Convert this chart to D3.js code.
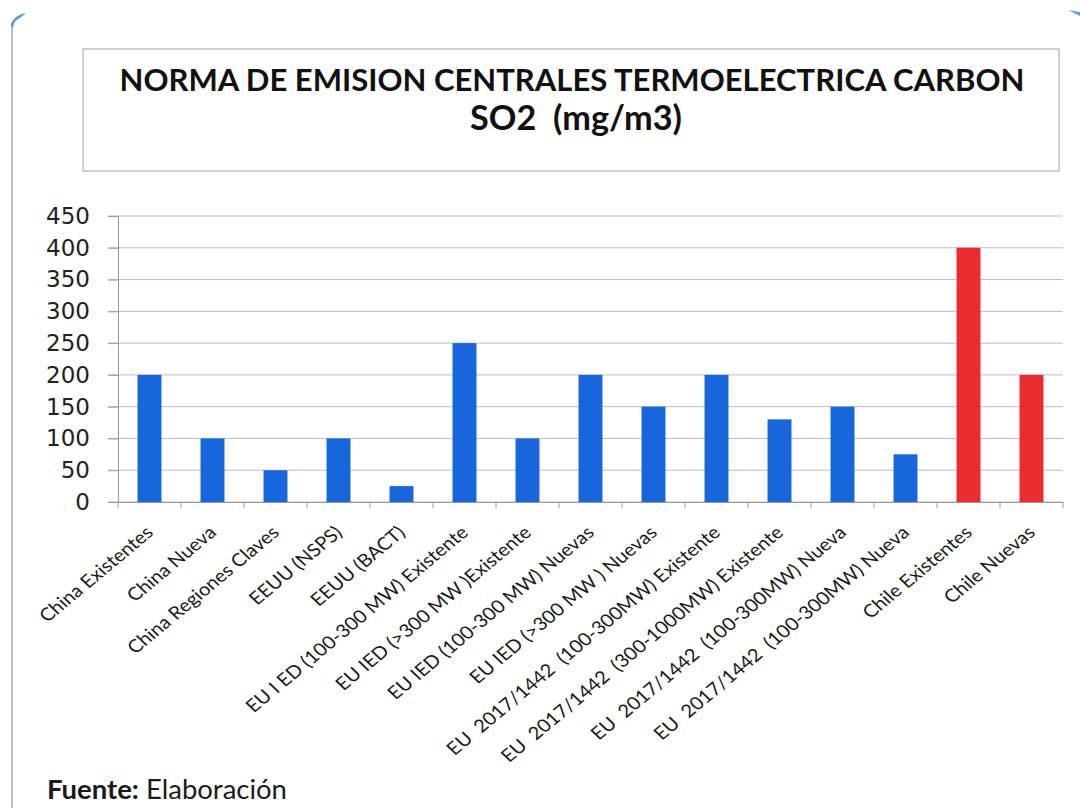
<!DOCTYPE html>
<html><head><meta charset="utf-8">
<script src="https://cdn.jsdelivr.net/npm/d3@7"></script>
<style>
html,body{margin:0;padding:0;background:#fff;}
svg{display:block;}
text{white-space:pre;}
</style></head>
<body>
<svg id="chart" width="1080" height="808"></svg>
<script>
const categories = [
  "China Existentes",
  "China Nueva",
  "China Regiones Claves",
  "EEUU (NSPS)",
  "EEUU (BACT)",
  "EU I ED (100-300 MW) Existente",
  "EU IED (>300 MW )Existente",
  "EU IED (100-300 MW) Nuevas",
  "EU IED (>300 MW ) Nuevas",
  "EU  2017/1442  (100-300MW) Existente",
  "EU  2017/1442  (300-1000MW) Existente",
  "EU  2017/1442  (100-300MW) Nueva",
  "EU  2017/1442  (100-300MW) Nueva",
  "Chile Existentes",
  "Chile Nuevas"
];
const values = [200, 100, 50, 100, 25, 250, 100, 200, 150, 200, 130, 150, 75, 400, 200];
const groups = ["otros","otros","otros","otros","otros","otros","otros","otros","otros","otros","otros","otros","otros","chile","chile"];
const yTicks = [0, 50, 100, 150, 200, 250, 300, 350, 400, 450];
const titleLines = ["NORMA DE EMISION CENTRALES TERMOELECTRICA CARBON", "SO2  (mg/m3)"];

const colors = {otros: "#1766dc", chile: "#ec2a30"};
const svg = d3.select("#chart");
const L = 118, R = 1063, T = 216, B = 502;
const keys = categories.map((c, i) => i);

const x = d3.scaleBand().domain(keys).range([L, R]).paddingInner(0.62).paddingOuter(0.31);
const y = d3.scaleLinear().domain([0, 450]).range([B, T]);

function fit(sel, w) {
  const n = sel.node();
  const fs = parseFloat(sel.attr("font-size"));
  const len = n.getComputedTextLength();
  const nf = fs * w / len;
  sel.attr("font-size", nf.toFixed(2));
  return nf;
}

// decoration: slide edge
svg.append("line").attr("x1", 12).attr("x2", 12).attr("y1", 22).attr("y2", 808)
  .attr("stroke", "#a8a8a8").attr("stroke-width", 1.5);
svg.append("path").attr("d", "M11,26 Q12,16 26,13 L20,18 Q14,20 13,28 Z").attr("fill", "#5b9bd5");
svg.append("path").attr("d", "M1068,10 L1080,12 L1080,16 Z").attr("fill", "#6a9ed0");

// title box
svg.append("rect").attr("x", 83).attr("y", 49).attr("width", 976).attr("height", 122)
  .attr("fill", "none").attr("stroke", "#a0a0a0").attr("stroke-width", 1);
const t1 = svg.append("text").attr("x", 572).attr("y", 91).attr("text-anchor", "middle")
  .attr("font-family", "Lato").attr("font-weight", "bold").attr("font-size", 26)
  .attr("fill", "#111").text(titleLines[0]);
fit(t1, 905);
const t2 = svg.append("text").attr("x", 576).attr("y", 130).attr("text-anchor", "middle")
  .attr("font-family", "Lato").attr("font-weight", "bold").attr("font-size", 26)
  .attr("fill", "#111").text(titleLines[1]);
fit(t2, 212);

// gridlines
svg.append("g").selectAll("line").data(yTicks).join("line")
  .attr("x1", 108).attr("x2", R).attr("y1", d => y(d)).attr("y2", d => y(d))
  .attr("stroke", "#bdbdbd").attr("stroke-width", 1);

// y axis
const yAxis = svg.append("g").attr("transform", `translate(${L},0)`)
  .call(d3.axisLeft(y).tickValues(yTicks).tickSize(10).tickPadding(18).tickFormat(d3.format("d")));
yAxis.select(".domain").attr("stroke", "#9a9a9a");
yAxis.selectAll(".tick line").attr("stroke", "#9a9a9a");
yAxis.selectAll(".tick text").attr("font-family", "DejaVu Sans").attr("font-size", 23).attr("fill", "#222");

// bars
svg.append("g").selectAll("rect").data(keys).join("rect")
  .attr("x", i => x(i)).attr("width", x.bandwidth())
  .attr("y", i => y(values[i])).attr("height", i => B - y(values[i]))
  .attr("fill", i => colors[groups[i]]);

// x axis
const xAxis = svg.append("g").attr("transform", `translate(0,${B})`)
  .call(d3.axisBottom(x).tickSize(0).tickFormat(() => ""));
xAxis.select(".domain").attr("stroke", "#9a9a9a");
const step = x.step();
const bounds = d3.range(categories.length + 1).map(k => L + k * step);
svg.append("g").selectAll("line").data(bounds).join("line")
  .attr("x1", d => d).attr("x2", d => d).attr("y1", B).attr("y2", B + 6)
  .attr("stroke", "#9a9a9a");

// x labels rotated (slightly stretched like the source)
svg.append("g").selectAll("text").data(keys).join("text")
  .attr("transform", i => `translate(${x(i) + x.bandwidth() / 2 + 5},${B + 32}) scale(1.12,1) rotate(-43)`)
  .attr("text-anchor", "end")
  .attr("font-family", "Lato").attr("font-size", 18).attr("fill", "#1a1a1a")
  .text(i => categories[i]);

// source
const src = svg.append("text").attr("x", 47).attr("y", 799)
  .attr("font-family", "Lato").attr("font-size", 22).attr("fill", "#1a1a1a");
src.append("tspan").attr("font-weight", "bold").text("Fuente:");
src.append("tspan").text(" Elaboración");
fit(src, 240);
</script>
</body></html>
